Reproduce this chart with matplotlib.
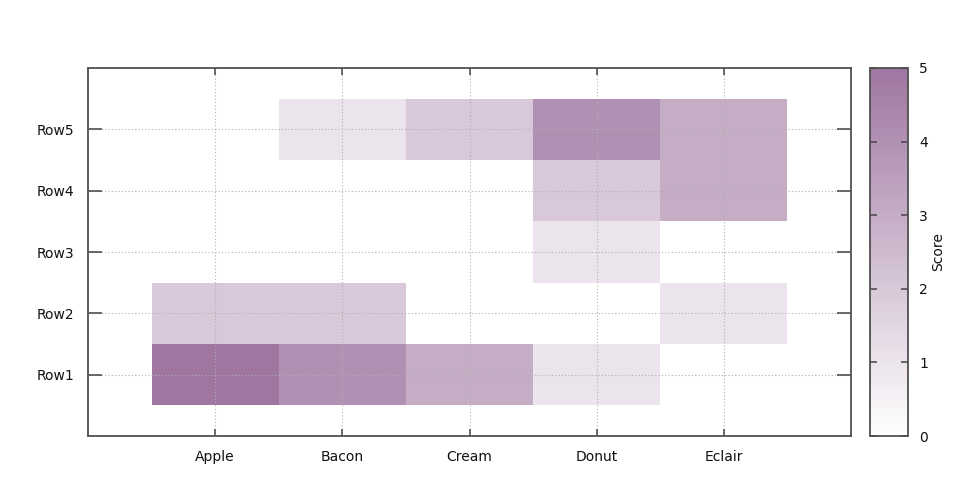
import numpy as np
import matplotlib
matplotlib.use('Agg')
import matplotlib.pyplot as plt
from matplotlib.colors import LinearSegmentedColormap

columns = ['Apple', 'Bacon', 'Cream', 'Donut', 'Eclair']
rows = ['Row1', 'Row2', 'Row3', 'Row4', 'Row5']
scores = np.array([
    [5, 4, 3, 1, 0],   # Row1
    [2, 2, 0, 0, 1],   # Row2
    [0, 0, 0, 1, 0],   # Row3
    [0, 0, 0, 2, 3],   # Row4
    [0, 1, 2, 4, 3],   # Row5
])

cmap = LinearSegmentedColormap.from_list('wp', ['#ffffff', '#9e76a0'])
edge = '#505050'
txt = '#111111'

fig = plt.figure(figsize=(9.6, 4.8), dpi=100)
ax = fig.add_axes([88 / 960, 44 / 480, 763 / 960, 368 / 480])
cax = fig.add_axes([870 / 960, 44 / 480, 38 / 960, 368 / 480])

x = np.arange(len(columns))
y = np.arange(len(rows))
mesh = ax.pcolormesh(np.append(x - 0.5, x[-1] + 0.5), np.append(y - 0.5, y[-1] + 0.5),
                     scores, cmap=cmap, vmin=0, vmax=5, shading='flat')

ax.set_xlim(-1, 5)
ax.set_ylim(-1, 5)
ax.set_xticks(x)
ax.set_xticklabels(columns)
ax.set_yticks(y)
ax.set_yticklabels(rows)
ax.grid(True, color='#b0b0b0', linestyle=(0, (1, 2)), linewidth=0.8)
ax.set_axisbelow(False)
ax.tick_params(direction='in', width=1.2, color=edge, top=True, right=True,
               labelsize=10, labelcolor=txt)
ax.tick_params(axis='x', length=5, pad=10)
ax.tick_params(axis='y', length=10, pad=10)
for s in ax.spines.values():
    s.set_color(edge)
    s.set_linewidth(1.3)

cb = fig.colorbar(mesh, cax=cax)
cb.set_ticks([0, 1, 2, 3, 4, 5])
cb.ax.tick_params(direction='in', length=5, width=1.2, color=edge, left=True, right=True,
                  labelsize=10, labelcolor=txt, pad=8)
cb.outline.set_edgecolor(edge)
cb.outline.set_linewidth(1.3)
cb.set_label('Score', fontsize=10, color=txt, labelpad=2)

fig.savefig('out.png', dpi=100)
